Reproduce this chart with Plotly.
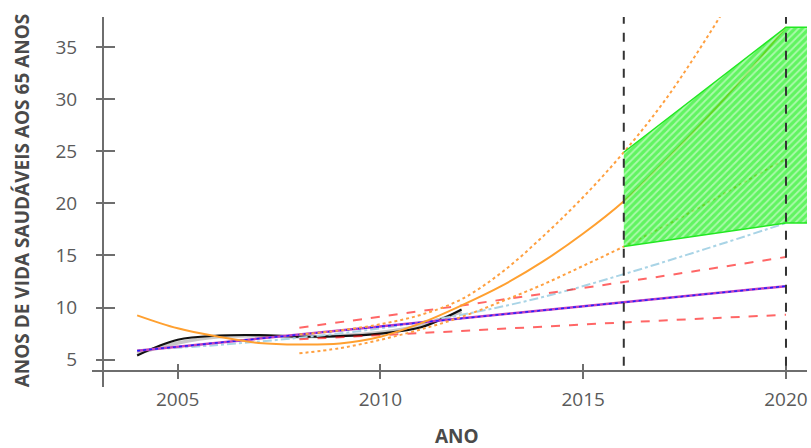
import plotly.graph_objects as go

# ---------------- data ----------------
obs_years = [2004, 2005, 2006, 2007, 2008, 2009, 2010, 2011, 2012]
obs_black = [5.4, 6.9, 7.3, 7.35, 7.2, 7.25, 7.5, 8.1, 9.8]
obs_gray = [5.6, 6.6, 7.2, 7.3, 7.2, 7.3, 7.6, 8.3, 9.6]

blue_years = [2004, 2006, 2008, 2010, 2012, 2014, 2016, 2018, 2020]
blue_fit = [5.9, 6.4, 7.1, 8.0, 9.3, 11.0, 13.2, 15.6, 18.1]

trend_years = [2004, 2020]
trend_vals = [5.85, 12.05]

red_years = [2008, 2012, 2016, 2020]
red_upper = [8.06, 10.2, 12.45, 14.85]
red_lower = [6.95, 7.75, 8.57, 9.3]

orange_years = list(range(2004, 2021))
orange_fit = [9.25, 8.0, 7.2, 6.6, 6.45, 6.55, 7.2, 8.5, 10.2, 12.1, 14.4,
              17.1, 20.2, 24.0, 28.0, 32.3, 36.9]

orange_ci_years = list(range(2008, 2021))
orange_upper = [7.4, 7.8, 8.4, 9.3, 10.8, 13.4, 16.8, 20.6, 24.9, 29.8, 35.6, 42.0, 49.0]
orange_lower = [5.6, 6.1, 6.9, 7.9, 9.1, 10.6, 12.2, 14.0, 15.85, 17.8, 19.9, 22.1, 24.3]

band_years = [2016, 2020, 2020.6]
band_upper = [24.9, 36.9, 36.9]
band_lower = [15.85, 18.1, 18.1]

forecast_marks = [2016, 2020]

x_ticks = [2005, 2010, 2015, 2020]
y_ticks = [5, 10, 15, 20, 25, 30, 35]
x_range = [2003.158, 2020.518]
y_range = [3.906, 37.88]

# ---------------- figure ----------------
fig = go.Figure()

fig.add_trace(go.Scatter(x=obs_years, y=obs_gray, mode="lines", line_shape="spline",
                         line=dict(color="#c8c8c8", width=3.5)))
fig.add_trace(go.Scatter(x=obs_years, y=obs_black, mode="lines", line_shape="spline",
                         line=dict(color="#111111", width=2.2)))
fig.add_trace(go.Scatter(x=blue_years, y=blue_fit, mode="lines", line_shape="spline",
                         line=dict(color="#a9d4e6", width=2, dash="dashdot")))
fig.add_trace(go.Scatter(x=red_years, y=red_upper, mode="lines", line_shape="spline",
                         line=dict(color="rgba(255,0,0,0.6)", width=2, dash="dash")))
fig.add_trace(go.Scatter(x=red_years, y=red_lower, mode="lines", line_shape="spline",
                         line=dict(color="rgba(255,0,0,0.6)", width=2, dash="dash")))
fig.add_trace(go.Scatter(x=trend_years, y=trend_vals, mode="lines",
                         line=dict(color="#c040c0", width=2.5)))
fig.add_trace(go.Scatter(x=trend_years, y=trend_vals, mode="lines",
                         line=dict(color="#2020ff", width=1.5, dash="dot")))
fig.add_trace(go.Scatter(x=orange_ci_years, y=orange_upper, mode="lines", line_shape="spline",
                         line=dict(color="#ffa040", width=2, dash="dot")))
fig.add_trace(go.Scatter(x=orange_ci_years, y=orange_lower, mode="lines", line_shape="spline",
                         line=dict(color="#ffa040", width=2, dash="dot")))
fig.add_trace(go.Scatter(x=orange_years, y=orange_fit, mode="lines", line_shape="spline",
                         line=dict(color="#ffa030", width=2)))

poly_x = band_years + band_years[::-1]
poly_y = band_upper + band_lower[::-1]
fig.add_trace(go.Scatter(x=poly_x, y=poly_y, mode="lines", fill="toself",
                         line=dict(color="#22e822", width=1.5),
                         fillcolor="rgba(30,240,30,0.7)",
                         fillpattern=dict(shape="/", fgcolor="rgba(255,255,255,0.95)",
                                          bgcolor="rgba(30,240,30,0.7)",
                                          size=5, solidity=0.35, fillmode="overlay")))

# dummy trace for overlay axes (inside ticks => crossing ticks)
fig.add_trace(go.Scatter(x=[x_range[0]], y=[y_range[0]], xaxis="x2", yaxis="y2",
                         mode="markers", marker=dict(opacity=0), hoverinfo="skip"))

for v in forecast_marks:
    fig.add_vline(x=v, y0=0.015, y1=1, line=dict(color="#333333", width=2, dash="dash"),
                  layer="above")

axis_col = "#6e6e6e"
tick_font = dict(family="Open Sans", size=19, color="#5a5a5a")

fig.update_layout(
    width=811, height=448,
    margin=dict(l=103, r=4, t=17, b=77),
    paper_bgcolor="white", plot_bgcolor="white",
    showlegend=False,
    xaxis=dict(range=x_range, tickvals=x_ticks, ticks="outside", ticklen=7, tickwidth=2,
               tickcolor=axis_col, showgrid=False, zeroline=False, showline=False,
               tickfont=tick_font, ticklabelstandoff=4),
    yaxis=dict(range=y_range, tickvals=y_ticks, ticks="outside", ticklen=6, tickwidth=2,
               tickcolor=axis_col, showgrid=False, zeroline=False, showline=False,
               tickfont=tick_font, ticklabelstandoff=15),
    xaxis2=dict(range=x_range, tickvals=x_ticks, ticks="inside", ticklen=7, tickwidth=2,
                tickcolor=axis_col, showgrid=False, zeroline=False, showline=False,
                showticklabels=False, overlaying="x", side="bottom"),
    yaxis2=dict(range=y_range, tickvals=y_ticks, ticks="inside", ticklen=12, tickwidth=2,
                tickcolor=axis_col, showgrid=False, zeroline=False, showline=False,
                showticklabels=False, overlaying="y", side="left"),
)

# axis lines with small overhang
fig.add_shape(type="line", xref="paper", yref="paper", x0=-11 / 704, x1=1, y0=0, y1=0,
              line=dict(color=axis_col, width=2), layer="above")
fig.add_shape(type="line", xref="paper", yref="paper", x0=0, x1=0, y0=-16 / 354, y1=1,
              line=dict(color=axis_col, width=2), layer="above")

title_font = dict(family="Open Sans", size=19, color="#4a4a4a", weight="bold")
fig.add_annotation(text="ANOS DE VIDA SAUDÁVEIS AOS 65 ANOS", textangle=-90,
                   xref="paper", yref="paper", x=(22 - 103) / 704, y=0.482,
                   xanchor="center", yanchor="middle", showarrow=False, font=title_font)
fig.add_annotation(text="ANO", xref="paper", yref="paper", x=0.503, y=(370.7 - 436) / 354,
                   xanchor="center", yanchor="middle", showarrow=False, font=title_font)

fig.write_html("out.html", config={"displayModeBar": False},
               post_script="document.body.style.margin='0';"
                           "document.body.style.overflow='hidden';")
